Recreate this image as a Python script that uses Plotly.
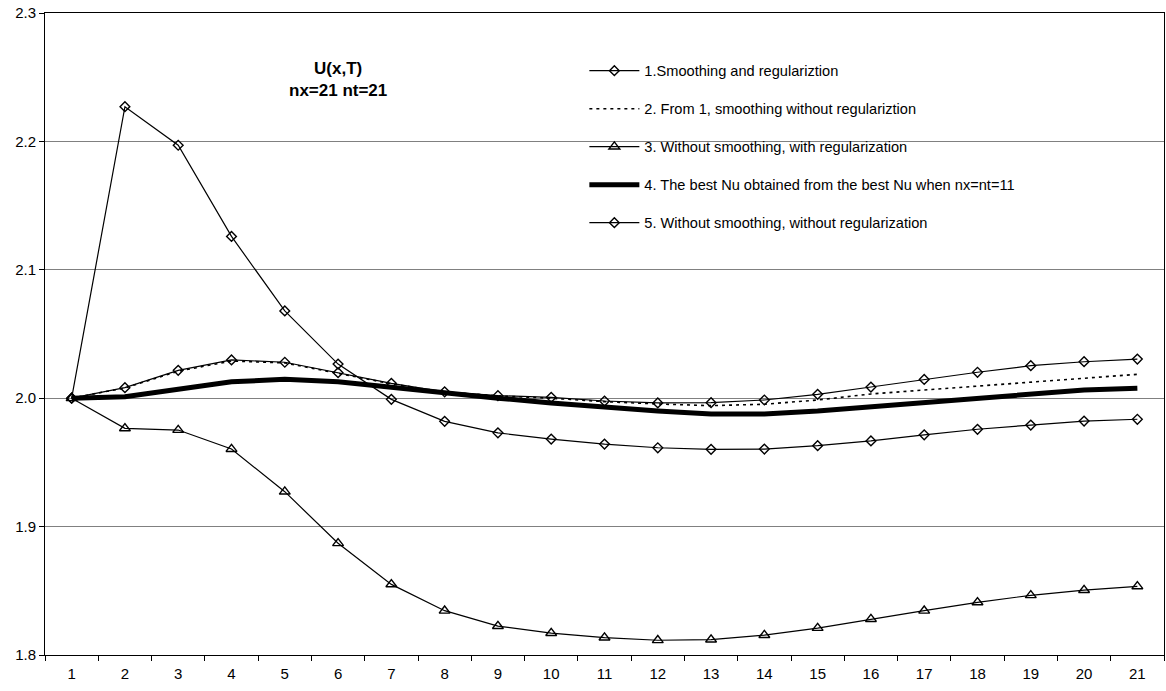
import plotly.graph_objects as go

x_labels = [str(i) for i in range(1, 22)]

s1_smooth_reg = [2.000, 2.0082, 2.0217, 2.0298, 2.0280, 2.0199, 2.0116, 2.0050, 2.0020,
                 2.0007, 1.9978, 1.9963, 1.9965, 1.9986, 2.0030, 2.0087, 2.0146, 2.0202,
                 2.0253, 2.0284, 2.0305]
s2_smooth_noreg = [2.000, 2.0080, 2.0210, 2.0290, 2.0275, 2.0195, 2.0112, 2.0048, 2.0018,
                   2.0000, 1.9973, 1.9955, 1.9942, 1.9953, 1.9986, 2.0033, 2.0064, 2.0095,
                   2.0129, 2.0160, 2.0186]
s3_nosmooth_reg = [2.000, 1.9765, 1.9752, 1.9604, 1.9272, 1.8870, 1.8550, 1.8345, 1.8225,
                   1.8170, 1.8135, 1.8115, 1.8120, 1.8155, 1.8210, 1.8280, 1.8345, 1.8410,
                   1.8465, 1.8505, 1.8535]
s4_best_nu = [2.000, 2.0012, 2.0069, 2.0128, 2.0147, 2.0128, 2.0085, 2.0040, 2.0000,
              1.9963, 1.9931, 1.9900, 1.9877, 1.9877, 1.9900, 1.9934, 1.9967, 2.0004,
              2.0038, 2.0064, 2.0077]
s5_nosmooth_noreg = [2.000, 2.227, 2.197, 2.126, 2.068, 2.0266, 1.9991, 1.9820, 1.9730,
                     1.9682, 1.9643, 1.9614, 1.9602, 1.9604, 1.9630, 1.9667, 1.9715, 1.9758,
                     1.9791, 1.9822, 1.9836]

names = [
    "1.Smoothing and regulariztion",
    "2. From 1, smoothing without regulariztion",
    "3. Without smoothing, with regularization",
    "4. The best Nu obtained from the best Nu when nx=nt=11",
    "5. Without smoothing, without regularization",
]

FONT = "Liberation Sans, Arial, sans-serif"

fig = go.Figure()

fig.add_trace(go.Scatter(x=x_labels, y=s4_best_nu, name=names[3], mode="lines",
                         line=dict(color="black", width=5), legendrank=4, legendgroup="g4"))
fig.add_trace(go.Scatter(x=x_labels, y=s2_smooth_noreg, name=names[1], mode="lines",
                         line=dict(color="black", width=1.6, dash="3px,4px"), legendrank=2,
                         legendgroup="g2"))
fig.add_trace(go.Scatter(x=x_labels, y=s1_smooth_reg, name=names[0], mode="lines+markers",
                         line=dict(color="black", width=1.2),
                         marker=dict(symbol="diamond-open", size=7.5, color="black",
                                     line=dict(width=1.4)), legendrank=1, legendgroup="g1"))
fig.add_trace(go.Scatter(x=x_labels, y=s3_nosmooth_reg, name=names[2], mode="lines+markers",
                         line=dict(color="black", width=1.2),
                         marker=dict(symbol="triangle-up-open", size=9.5, color="black",
                                     line=dict(width=1.4)), legendrank=3, legendgroup="g3"))
fig.add_trace(go.Scatter(x=x_labels, y=s5_nosmooth_noreg, name=names[4], mode="lines+markers",
                         line=dict(color="black", width=1.2),
                         marker=dict(symbol="diamond-open", size=7.5, color="black",
                                     line=dict(width=1.4)), legendrank=5, legendgroup="g5"))

fig.add_annotation(text="<b>U(x,T)</b><br><b>nx=21 nt=21</b>", xref="paper", yref="paper",
                   x=0.262, y=0.896, xanchor="center", yanchor="middle", showarrow=False,
                   font=dict(family=FONT, size=17, color="black"))

fig.update_layout(
    width=1166, height=691,
    margin=dict(l=44.5, r=2, t=13, b=36),
    paper_bgcolor="white", plot_bgcolor="white",
    font=dict(family=FONT, size=15, color="black"),
    showlegend=True,
    legend=dict(x=0.482, y=0.935, xanchor="left", yanchor="top",
                bgcolor="rgba(0,0,0,0)", font=dict(family=FONT, size=14.6),
                traceorder="grouped", tracegroupgap=16, itemwidth=50),
    xaxis=dict(type="category", range=[-0.5, 20.5], tickson="boundaries",
               ticks="outside", ticklen=5, tickcolor="black", showgrid=False,
               showline=True, linecolor="black", linewidth=1, mirror=True,
               ticklabelstandoff=5, tickfont=dict(size=15)),
    yaxis=dict(range=[1.8, 2.3], tickvals=[1.8, 1.9, 2.0, 2.1, 2.2, 2.3],
               ticktext=["1.8", "1.9", "2.0", "2.1", "2.2", "2.3"],
               ticks="outside", ticklen=5, tickcolor="black",
               showgrid=True, gridcolor="#808080", gridwidth=1,
               showline=True, linecolor="black", linewidth=1, mirror=True,
               zeroline=False, tickfont=dict(size=15)),
)

fig.write_html("out.html")
